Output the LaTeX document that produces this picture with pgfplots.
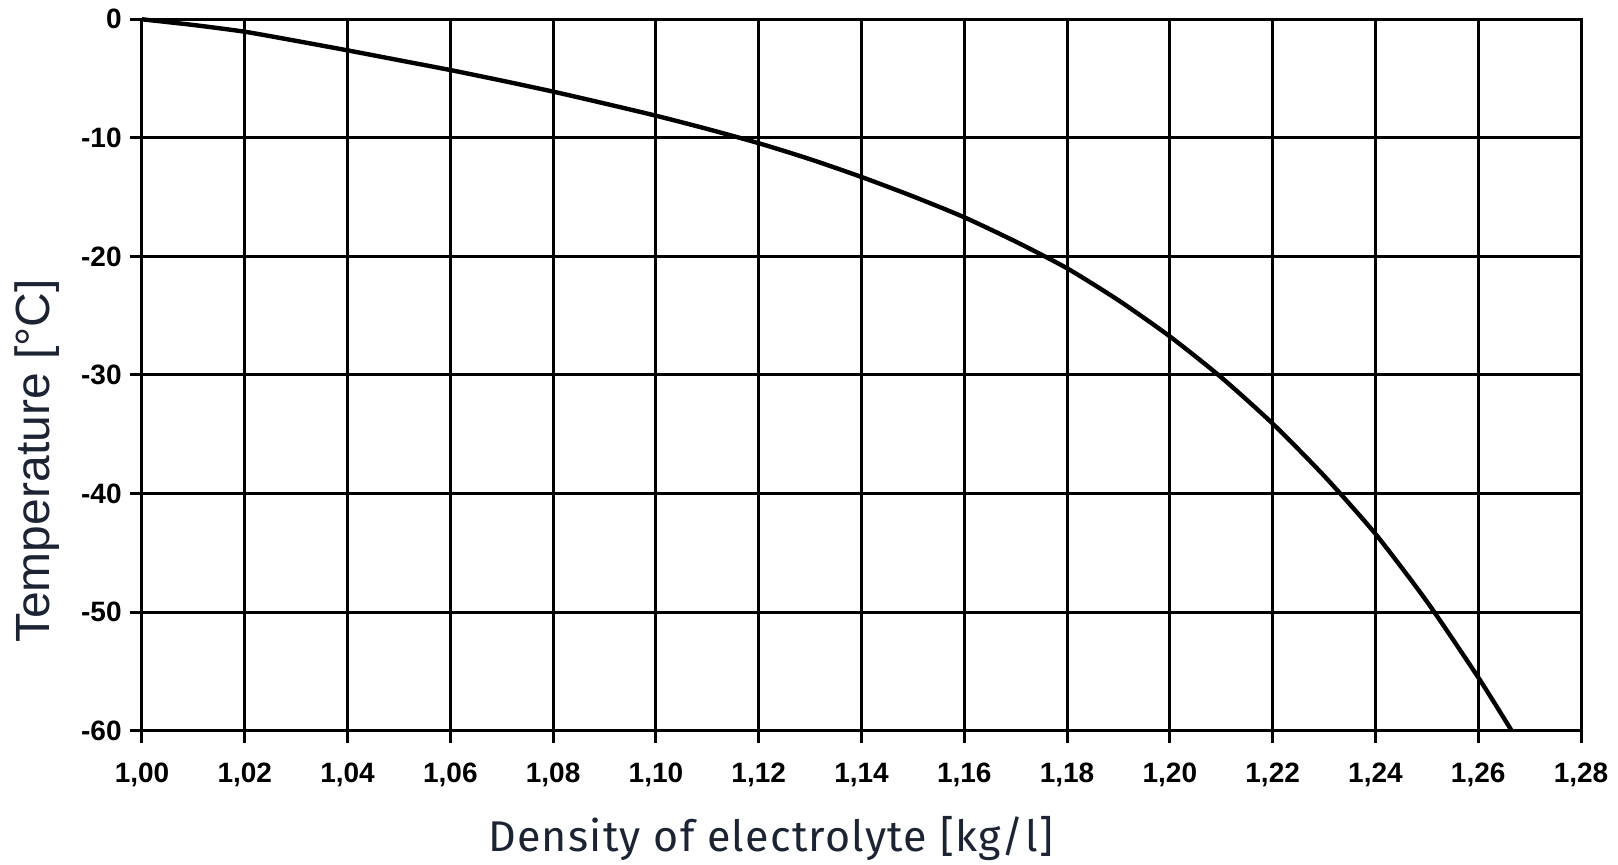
\documentclass[border=0pt]{standalone}
\usepackage{fontspec}
\setmainfont{Liberation Sans}
\newfontfamily\xlabfont{Fira Sans}[LetterSpace=3]
\usepackage{pgfplots}
\pgfplotsset{compat=1.18}
\usetikzlibrary{calc}
\definecolor{labelink}{HTML}{1C2434}

% freezing point of the electrolyte
\pgfplotstableread{
dens   temp
1.000   0.0
1.010  -0.48
1.020  -1.05
1.030  -1.82
1.040  -2.62
1.050  -3.45
1.060  -4.28
1.070  -5.17
1.080  -6.1
1.090  -7.1
1.100  -8.13
1.110  -9.25
1.120 -10.45
1.130 -11.8
1.140 -13.3
1.150 -14.93
1.160 -16.7
1.170 -18.75
1.180 -21.0
1.190 -23.7
1.200 -26.75
1.210 -30.2
1.220 -34.1
1.230 -38.5
1.240 -43.4
1.250 -49.1
1.260 -55.5
1.2665 -60.0
}\freezetab

\begin{document}
\begin{tikzpicture}
\begin{axis}[
  scale only axis,
  width=719.5pt, height=355.7pt,
  xmin=1, xmax=1.28, ymin=-60, ymax=0,
  xtick={1.00,1.02,1.04,1.06,1.08,1.10,1.12,1.14,1.16,1.18,1.20,1.22,1.24,1.26,1.28},
  ytick={-60,-50,-40,-30,-20,-10,0},
  xtick pos=bottom, ytick pos=left,
  tick align=outside,
  major tick length=6pt,
  grid=major,
  major grid style={black, line width=1.5pt},
  axis line style={black, line width=1.5pt},
  every tick/.style={black, line width=1.5pt},
  clip=false,
  xticklabel shift=10pt,
  yticklabel shift=4pt,
  /pgf/number format/assume math mode=true,
  ticklabel style={font=\fontsize{14}{14}\selectfont\bfseries, inner sep=0pt},
  xticklabel style={/pgf/number format/.cd, use comma, fixed, fixed zerofill, precision=2},
  yticklabel style={/pgf/number format/.cd, fixed, precision=0},
  xlabel={\xlabfont\fontsize{21.5}{25}\selectfont Density of electrolyte [kg/l]},
  ylabel={\fontsize{24}{28}\selectfont Temperature [°C]},
  xlabel style={at={(rel axis cs:0.437,-0.1705)}, anchor=base, text=labelink, inner sep=0pt},
  ylabel style={at={(rel axis cs:-0.073,0.379)}, anchor=center, text=labelink, inner sep=0pt},
]
\addplot[black, line width=2.2pt, smooth, tension=0.4] table[x=dens, y=temp] {\freezetab};
\end{axis}
\path ($(current axis.south west)+(-71pt,-67.15pt)$) rectangle ($(current axis.north east)+(18.5pt,9.65pt)$);
\end{tikzpicture}
\end{document}
